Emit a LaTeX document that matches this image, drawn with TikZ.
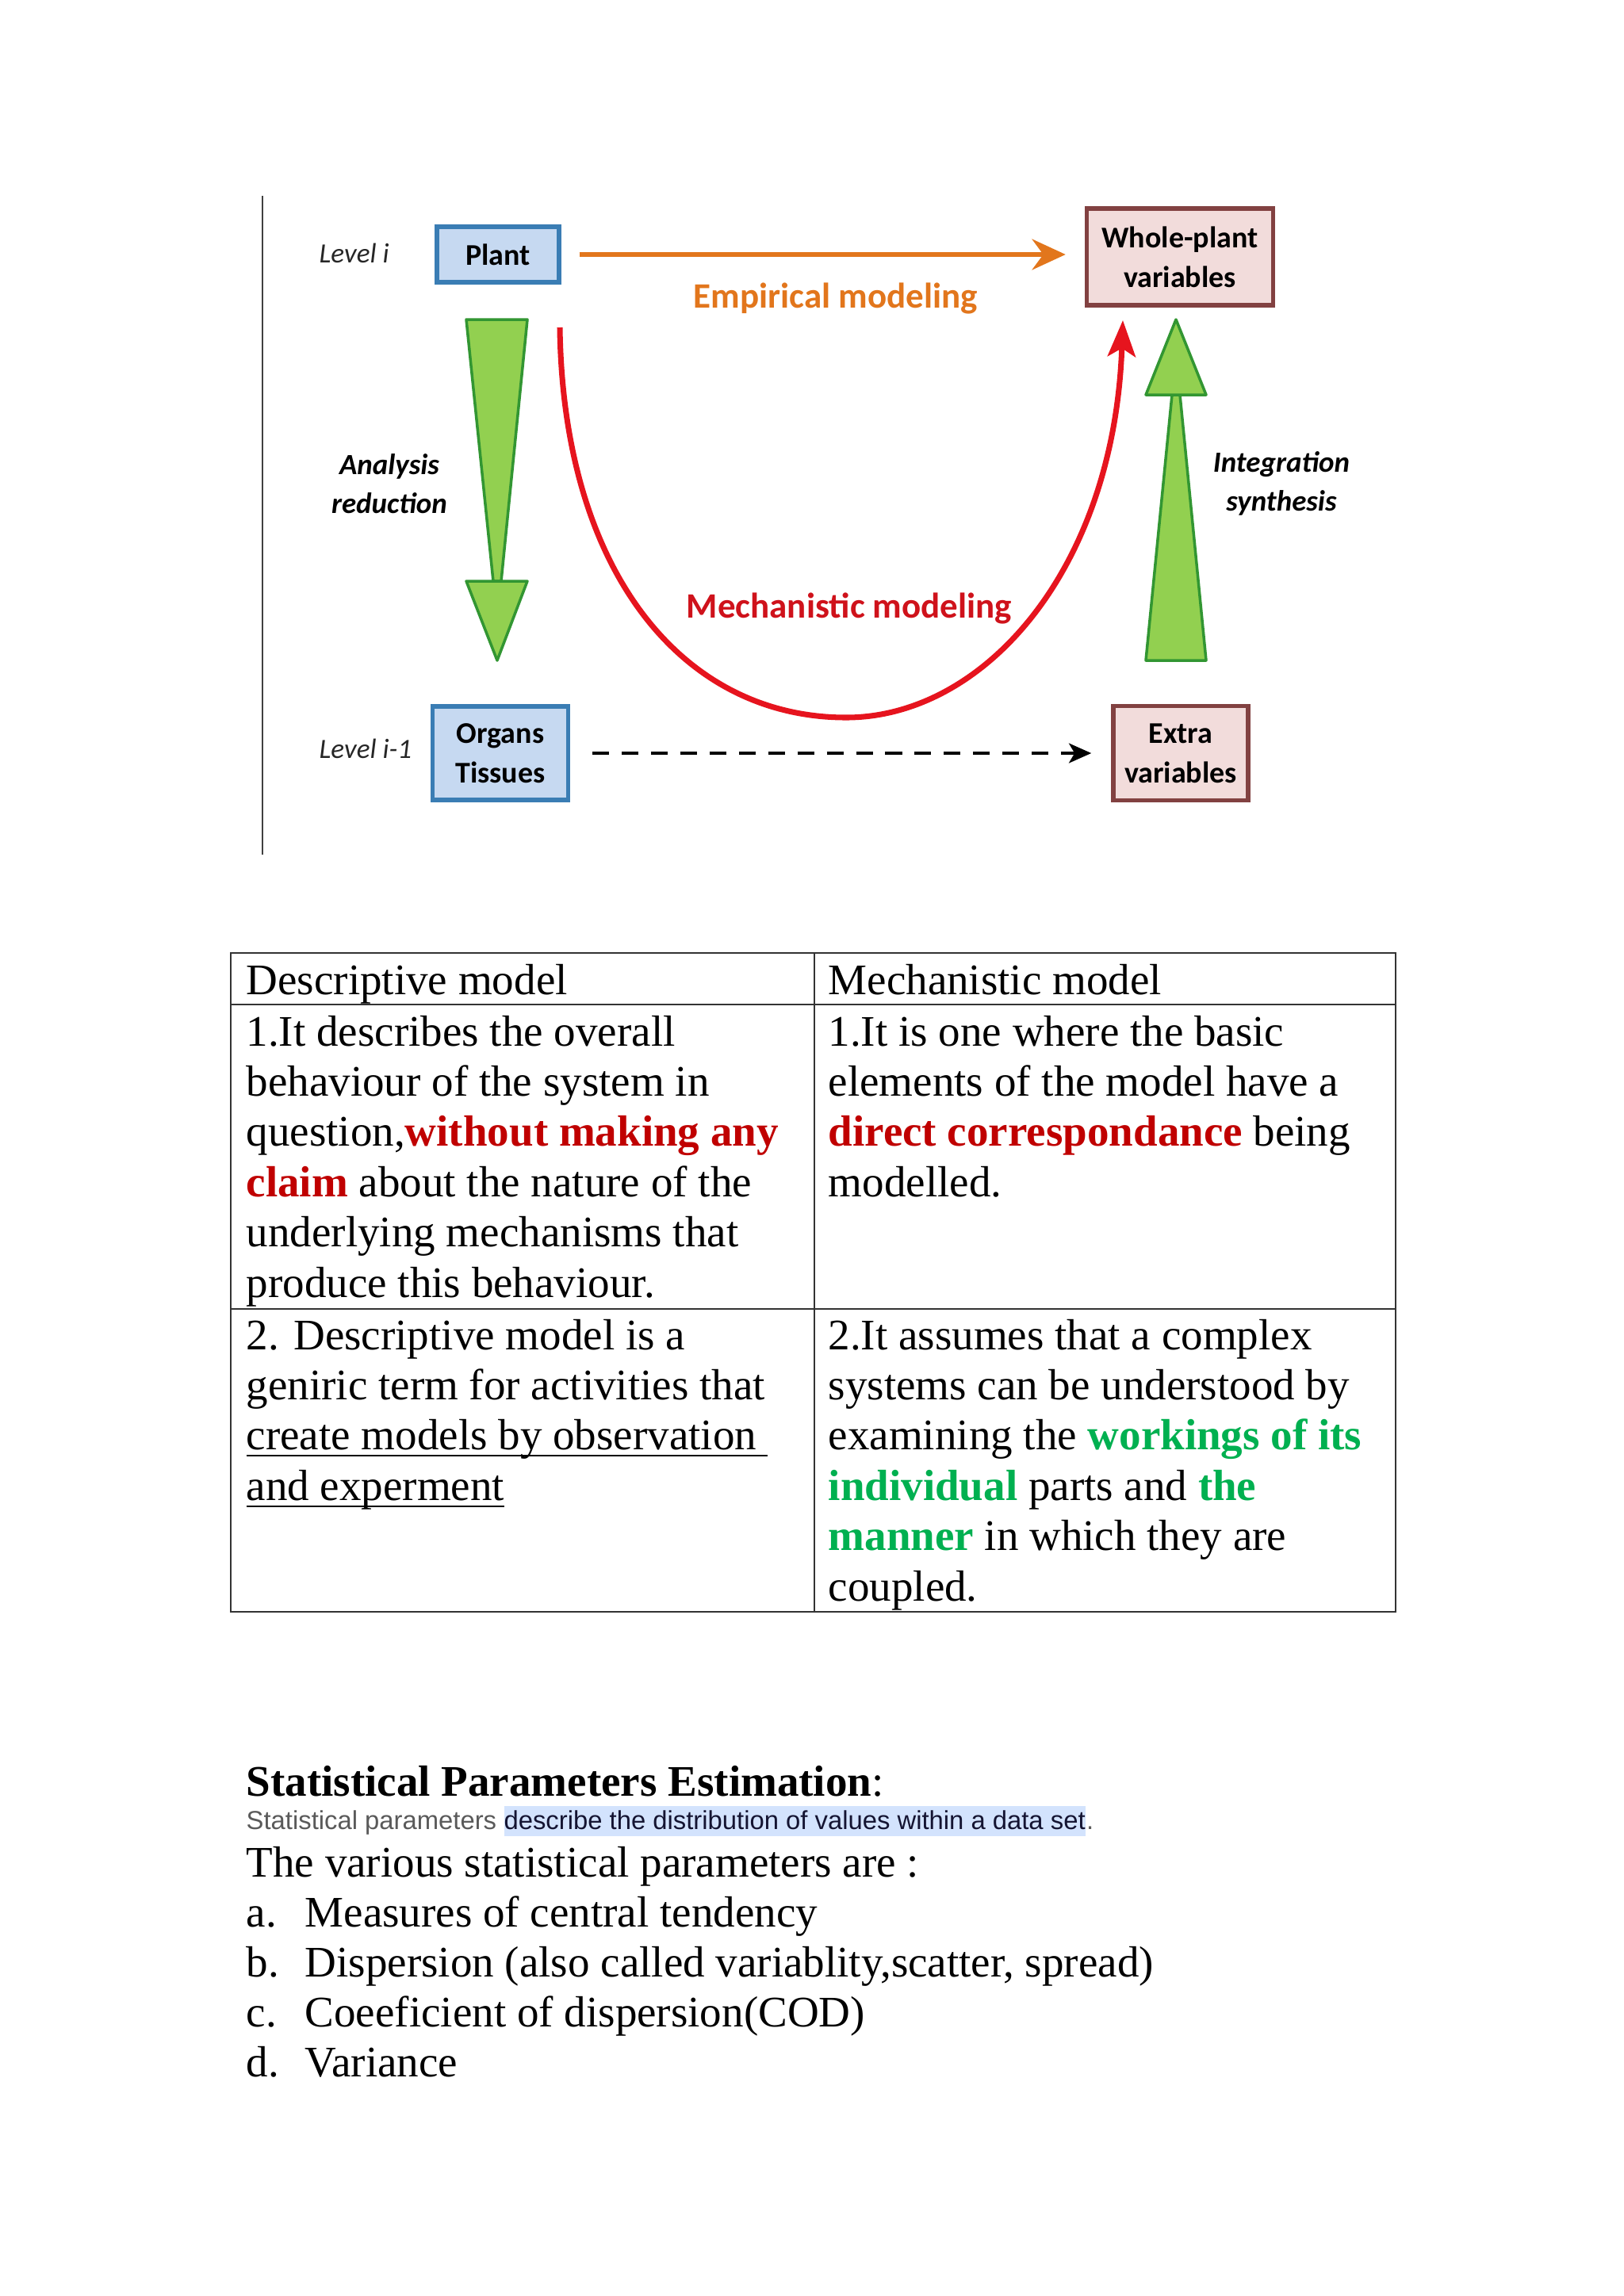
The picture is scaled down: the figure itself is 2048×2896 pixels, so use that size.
\documentclass[tikz,border=0pt]{standalone}
\usepackage{fontspec}
\setmainfont{Liberation Serif}
\newfontfamily\calfont{Carlito}
\newfontfamily\arialfont{Liberation Sans}
\usetikzlibrary{arrows.meta, positioning}

\newcommand\baseul[1]{\setbox0\hbox{#1}\rlap{\rule[-2.4pt]{\wd0}{0.6pt}}\box0}

\definecolor{boxblue}{RGB}{198,217,241}
\definecolor{lineblue}{RGB}{58,125,180}
\definecolor{boxpink}{RGB}{242,220,219}
\definecolor{linepink}{RGB}{130,65,65}
\definecolor{arrowgreen}{RGB}{146,208,80}
\definecolor{edgegreen}{RGB}{50,150,50}
\definecolor{emporange}{RGB}{226,118,28}
\definecolor{mechred}{RGB}{230,20,30}
\definecolor{hired}{RGB}{192,0,0}
\definecolor{higreen}{RGB}{0,176,80}
\definecolor{markblue}{RGB}{211,227,253}
\definecolor{softgray}{RGB}{90,90,90}
\definecolor{navytext}{RGB}{20,20,50}

\begin{document}
\begin{tikzpicture}[
    x=0.01cm, y=-0.01cm,
    level/.style={anchor=west, inner sep=0pt, text=black!85, font=\calfont\itshape\fontsize{10}{12}\selectfont},
    lowbox/.style={draw=lineblue, fill=boxblue, line width=1.5pt, align=center, inner sep=0pt, font=\calfont\bfseries\fontsize{10.8}{14.2}\selectfont},
    highbox/.style={draw=linepink, fill=boxpink, line width=1.5pt, align=center, inner sep=0pt, font=\calfont\bfseries\fontsize{10.8}{14.2}\selectfont},
    sidelabel/.style={align=center, inner sep=0pt, font=\calfont\bfseries\itshape\fontsize{10.5}{14}\selectfont},
    modlabel/.style={inner sep=0pt, font=\calfont\bfseries\fontsize{12.8}{15}\selectfont},
    bigarrow/.style={fill=arrowgreen, draw=edgegreen, line width=1pt, line join=round},
    cell/.style={anchor=base west, inner sep=0pt, font=\fontsize{15.65}{17.9}\selectfont},
    smalltext/.style={anchor=base west, inner sep=0pt, font=\arialfont\fontsize{9.33}{11}\selectfont},
    tableline/.style={draw=black!80, line width=0.6pt}
]

\fill[white] (0,0) rectangle (2048,2896);
\useasboundingbox (0,0) rectangle (2048,2896);

% the two levels
\draw[black!75, line width=0.8pt] (331,247) -- (331,1078);
\node[level] (lvl1) at (402,319) {Level i};
\node[level] (lvl0) at (402,944) {Level i-1};

% boxes
\node[lowbox, minimum width=1.54cm, minimum height=0.70cm] (plant) at (628,321) {Plant};
\node[highbox, minimum width=2.35cm, minimum height=1.22cm] (whole) at (1488,324) {Whole-plant\\variables};
\node[lowbox, minimum width=1.71cm, minimum height=1.18cm] (organs) at (631,950) {Organs\\Tissues};
\node[highbox, minimum width=1.70cm, minimum height=1.19cm] (extra) at (1489,950) {Extra\\variables};

% empirical path
\draw[emporange, line width=1.7pt, shorten <=0.23cm, shorten >=0.24cm,
      -{Stealth[length=12pt, width=11pt, inset=4pt]}]
    (plant.east) -- (plant.east -| whole.west);
\node[modlabel, text=emporange] (emp) at (1054,377) {Empirical modeling};

% dashed link between lower boxes
\draw[black, line width=1.4pt, dash pattern=on 6pt off 4.5pt, shorten <=0.28cm, shorten >=0.25cm,
      -{Stealth[length=8pt, width=7pt, inset=2pt]}]
    (organs.east) -- (organs.east -| extra.west);

% mechanistic path
\coordinate (mstart) at (706,413);
\coordinate (mlow) at (1067,905);
\coordinate (mend) at (1416,404);
\draw[mechred, line width=2pt, -{Stealth[length=13pt, width=10pt, inset=3pt]}]
    (mstart) .. controls (710,720) and (860,905) .. (mlow)
             .. controls (1240,905) and (1405,720) .. (mend);
\node[modlabel, text=mechred!90!black] (mech) at (1071,767) {Mechanistic modeling};

% green arrows
\draw[bigarrow] (588,403) -- (665,403) -- (632,733) -- (622,733) -- cycle;
\draw[bigarrow] (588,733) -- (665,733) -- (627,833) -- cycle;
\draw[bigarrow] (1478,498) -- (1488,498) -- (1521,833) -- (1445,833) -- cycle;
\draw[bigarrow] (1445,498) -- (1521,498) -- (1483,403) -- cycle;

\node[sidelabel] (down) at (491,610) {Analysis\\reduction};
\node[sidelabel] (up) at (1616,610) {Integration\\synthesis};

% comparison table
\draw[tableline] (291,1202) rectangle (1760,2033);
\draw[tableline] (1027,1202) -- (1027,2033);
\draw[tableline] (291,1267) -- (1760,1267);
\draw[tableline] (291,1651) -- (1760,1651);

\node[cell] (headA) at (310,1254) {Descriptive model};
\node[cell] (headB) at (1044,1254) {Mechanistic model};

\foreach \t [count=\i from 0] in {
    {1.It describes the overall},
    {behaviour of the system in},
    {question,\textcolor{hired}{\bfseries without making any}},
    {\textcolor{hired}{\bfseries claim} about the nature of the},
    {underlying mechanisms that},
    {produce this behaviour.}}
  \node[cell] (descA\i) at (310,1319+63.4*\i) {\t};

\foreach \t [count=\i from 0] in {
    {1.It is one where the basic},
    {elements of the model have a},
    {\textcolor{hired}{\bfseries direct correspondance} being},
    {modelled.}}
  \node[cell] (mechA\i) at (1044,1319+63.4*\i) {\t};

\foreach \t [count=\i from 0] in {
    {2. Descriptive model is a},
    {geniric term for activities that},
    {\baseul{create models by observation\ }},
    {\baseul{and experment}}}
  \node[cell] (descB\i) at (310,1702+63.4*\i) {\t};

\foreach \t [count=\i from 0] in {
    {2.It assumes that a complex},
    {systems can be understood by},
    {examining the \textcolor{higreen}{\bfseries workings of its}},
    {\textcolor{higreen}{\bfseries individual} parts and \textcolor{higreen}{\bfseries the}},
    {\textcolor{higreen}{\bfseries manner} in which they are},
    {coupled.}}
  \node[cell] (mechB\i) at (1044,1702+63.4*\i) {\t};

% statistical parameters
\node[cell] (stathead) at (310,2265) {\textbf{Statistical Parameters Estimation}:};
\node[smalltext, text=softgray] (statA) at (310,2307) {Statistical parameters};
\node[smalltext, fill=markblue, text height=0.29cm, text depth=0.09cm, text=navytext]
    (statB) at ([xshift=0.08cm]statA.base east) {describe the distribution of values within a data set};
\node[smalltext, text=softgray] (statC) at (statB.base east) {.};
\node[cell] (various) at (310,2367) {The various statistical parameters are :};

\foreach \l/\t [count=\i from 0] in {
    a./{Measures of central tendency},
    b./{Dispersion (also called variablity,scatter, spread)},
    c./{Coeeficient of dispersion(COD)},
    d./{Variance}} {
  \node[cell] (lab\i) at (310,2430+63.3*\i) {\l};
  \node[cell] (item\i) at (384,2430+63.3*\i) {\t};
}

\end{tikzpicture}
\end{document}
